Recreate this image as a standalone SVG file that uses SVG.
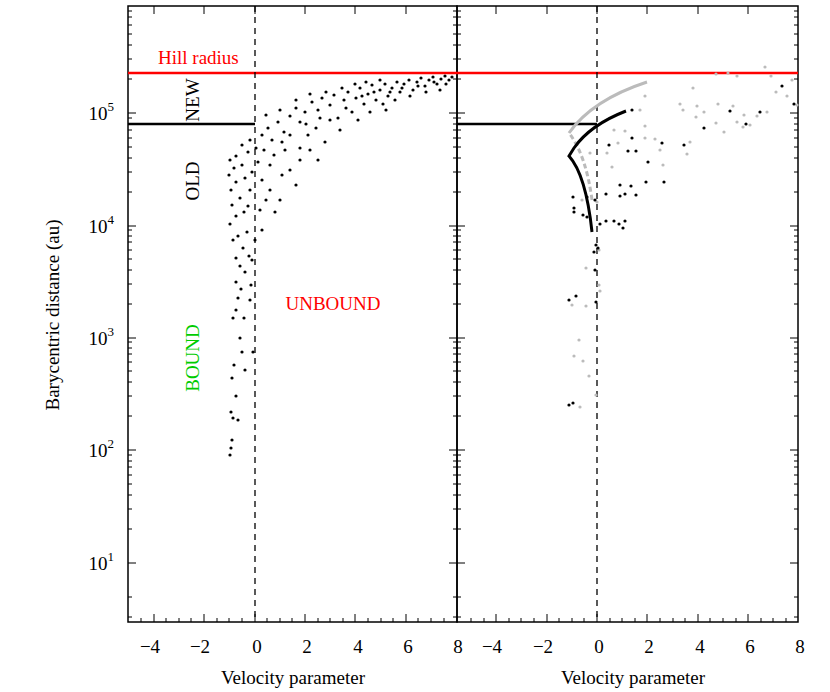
<svg xmlns="http://www.w3.org/2000/svg" width="830" height="692" viewBox="0 0 830 692">
<style>
text{font-family:"Liberation Serif",serif;font-size:19px;fill:#000}
.ax{fill:none;stroke:#000;stroke-width:1.5}
.tk{stroke:#000;stroke-width:1}
.d circle{fill:#000}
.g circle{fill:#bbb}
</style>
<defs>
<g id="yt">
<path class="tk" d="M0,563h8M0,450h8M0,338h8M0,226h8M0,113h8M0,529h4M0,509h4M0,495h4M0,484h4M0,475h4M0,467h4M0,461h4M0,455h4M0,416h4M0,396h4M0,382h4M0,371h4M0,362h4M0,354h4M0,348h4M0,342h4M0,304h4M0,284h4M0,270h4M0,259h4M0,250h4M0,242h4M0,236h4M0,230h4M0,192h4M0,172h4M0,158h4M0,147h4M0,138h4M0,130h4M0,124h4M0,118h4M0,79h4M0,59h4M0,45h4M0,34h4M0,25h4M0,17h4M0,11h4M0,597h4M0,617h4"/>
</g>
</defs>
<rect x="0" y="0" width="830" height="692" fill="#fff"/>
<rect class="ax" x="128" y="6" width="329" height="616"/>
<rect class="ax" x="457" y="6" width="341" height="616"/>
<use href="#yt" x="128"/>
<g transform="translate(457,0) scale(-1,1)"><use href="#yt"/></g>
<use href="#yt" x="457"/>
<g transform="translate(798,0) scale(-1,1)"><use href="#yt"/></g>
<path class="tk" d="M154,622v-8M204,622v-8M255,622v-8M305,622v-8M355,622v-8M406,622v-8M154,6v8M204,6v8M255,6v8M305,6v8M355,6v8M406,6v8M496,622v-8M547,622v-8M597,622v-8M647,622v-8M698,622v-8M748,622v-8M496,6v8M547,6v8M597,6v8M647,6v8M698,6v8M748,6v8"/>
<path class="tk" d="M141,622v-4M166,622v-4M179,622v-4M191,622v-4M217,622v-4M229,622v-4M242,622v-4M267,622v-4M280,622v-4M292,622v-4M318,622v-4M330,622v-4M343,622v-4M368,622v-4M381,622v-4M393,622v-4M418,622v-4M431,622v-4M444,622v-4M471,622v-4M484,622v-4M509,622v-4M521,622v-4M534,622v-4M559,622v-4M572,622v-4M584,622v-4M610,622v-4M622,622v-4M635,622v-4M660,622v-4M673,622v-4M685,622v-4M710,622v-4M723,622v-4M736,622v-4M761,622v-4M773,622v-4M786,622v-4"/>
<g text-anchor="middle">
<text x="150" y="653">−4</text><text x="200" y="653">−2</text><text x="257" y="653">0</text><text x="307" y="653">2</text><text x="358" y="653">4</text><text x="408" y="653">6</text><text x="458" y="653">8</text>
<text x="492" y="653">−4</text><text x="543" y="653">−2</text><text x="599" y="653">0</text><text x="649" y="653">2</text><text x="700" y="653">4</text><text x="750" y="653">6</text><text x="800" y="653">8</text>
<text x="293" y="684">Velocity parameter</text><text x="633" y="684">Velocity parameter</text>
</g>
<g text-anchor="end">
<text x="114" y="570">10<tspan font-size="13" dy="-9">1</tspan></text>
<text x="114" y="457">10<tspan font-size="13" dy="-9">2</tspan></text>
<text x="114" y="345">10<tspan font-size="13" dy="-9">3</tspan></text>
<text x="114" y="233">10<tspan font-size="13" dy="-9">4</tspan></text>
<text x="114" y="120">10<tspan font-size="13" dy="-9">5</tspan></text>
</g>
<text transform="translate(59,315) rotate(-90)" text-anchor="middle">Barycentric distance (au)</text>
<path d="M128,73H798" stroke="#f00" stroke-width="2.5"/>
<path d="M128,124H255M457,124H597" stroke="#000" stroke-width="2.5"/>
<path d="M255,6V622M597,6V622" stroke="#000" stroke-width="1.3" stroke-dasharray="6,5"/>
<text x="158" y="64" style="fill:#f00">Hill radius</text>
<text transform="translate(199,100) rotate(-90)" text-anchor="middle">NEW</text>
<text transform="translate(199,181) rotate(-90)" text-anchor="middle">OLD</text>
<text transform="translate(199,358) rotate(-90)" text-anchor="middle" style="fill:#0c0">BOUND</text>
<text x="333" y="310" text-anchor="middle" style="fill:#f00">UNBOUND</text>
<path d="M569,133Q592,100 647,82" fill="none" stroke="#bbb" stroke-width="3"/>
<path d="M592,200Q586,155 569,133" fill="none" stroke="#bbb" stroke-width="3" stroke-dasharray="5,3"/>
<path d="M592,232Q586,175 569,156L574,148Q590,125 626,111" fill="none" stroke="#000" stroke-width="3"/>
<g class="d">
<circle cx="230" cy="455" r="1.6"/><circle cx="231" cy="448" r="1.6"/><circle cx="232" cy="440" r="1.6"/><circle cx="233" cy="418" r="1.6"/><circle cx="231" cy="412" r="1.6"/><circle cx="232" cy="378" r="1.6"/><circle cx="236" cy="396" r="1.6"/><circle cx="238" cy="420" r="1.6"/><circle cx="234" cy="365" r="1.6"/><circle cx="242" cy="352" r="1.6"/><circle cx="245" cy="370" r="1.6"/><circle cx="240" cy="338" r="1.6"/><circle cx="233" cy="318" r="1.6"/><circle cx="236" cy="310" r="1.6"/><circle cx="244" cy="318" r="1.6"/><circle cx="238" cy="298" r="1.6"/><circle cx="241" cy="289" r="1.6"/><circle cx="236" cy="282" r="1.6"/><circle cx="245" cy="272" r="1.6"/><circle cx="240" cy="266" r="1.6"/><circle cx="236" cy="258" r="1.6"/><circle cx="249" cy="256" r="1.6"/><circle cx="243" cy="248" r="1.6"/><circle cx="233" cy="240" r="1.6"/><circle cx="238" cy="236" r="1.6"/><circle cx="247" cy="232" r="1.6"/><circle cx="252" cy="260" r="1.6"/><circle cx="251" cy="285" r="1.6"/><circle cx="250" cy="300" r="1.6"/><circle cx="253" cy="352" r="1.6"/><circle cx="230" cy="224" r="1.6"/><circle cx="236" cy="216" r="1.6"/><circle cx="244" cy="212" r="1.6"/><circle cx="232" cy="205" r="1.6"/><circle cx="240" cy="198" r="1.6"/><circle cx="248" cy="206" r="1.6"/><circle cx="231" cy="190" r="1.6"/><circle cx="236" cy="182" r="1.6"/><circle cx="229" cy="175" r="1.6"/><circle cx="234" cy="168" r="1.6"/><circle cx="230" cy="160" r="1.6"/><circle cx="236" cy="156" r="1.6"/><circle cx="242" cy="165" r="1.6"/><circle cx="245" cy="178" r="1.6"/><circle cx="250" cy="190" r="1.6"/><circle cx="252" cy="172" r="1.6"/><circle cx="248" cy="152" r="1.6"/><circle cx="242" cy="145" r="1.6"/><circle cx="250" cy="140" r="1.6"/><circle cx="256" cy="148" r="1.6"/><circle cx="258" cy="162" r="1.6"/><circle cx="262" cy="180" r="1.6"/><circle cx="266" cy="200" r="1.6"/><circle cx="260" cy="210" r="1.6"/><circle cx="270" cy="190" r="1.6"/><circle cx="275" cy="212" r="1.6"/><circle cx="280" cy="200" r="1.6"/><circle cx="262" cy="135" r="1.6"/><circle cx="268" cy="128" r="1.6"/><circle cx="272" cy="140" r="1.6"/><circle cx="278" cy="122" r="1.6"/><circle cx="284" cy="132" r="1.6"/><circle cx="274" cy="155" r="1.6"/><circle cx="285" cy="150" r="1.6"/><circle cx="290" cy="170" r="1.6"/><circle cx="296" cy="185" r="1.6"/><circle cx="282" cy="175" r="1.6"/><circle cx="290" cy="116" r="1.6"/><circle cx="296" cy="108" r="1.6"/><circle cx="300" cy="122" r="1.6"/><circle cx="305" cy="112" r="1.6"/><circle cx="308" cy="135" r="1.6"/><circle cx="300" cy="148" r="1.6"/><circle cx="312" cy="102" r="1.6"/><circle cx="318" cy="110" r="1.6"/><circle cx="322" cy="98" r="1.6"/><circle cx="316" cy="128" r="1.6"/><circle cx="325" cy="142" r="1.6"/><circle cx="318" cy="160" r="1.6"/><circle cx="330" cy="105" r="1.6"/><circle cx="334" cy="95" r="1.6"/><circle cx="338" cy="118" r="1.6"/><circle cx="344" cy="100" r="1.6"/><circle cx="348" cy="92" r="1.6"/><circle cx="340" cy="130" r="1.6"/><circle cx="352" cy="112" r="1.6"/><circle cx="356" cy="98" r="1.6"/><circle cx="360" cy="88" r="1.6"/><circle cx="364" cy="104" r="1.6"/><circle cx="368" cy="94" r="1.6"/><circle cx="372" cy="85" r="1.6"/><circle cx="376" cy="100" r="1.6"/><circle cx="380" cy="90" r="1.6"/><circle cx="385" cy="84" r="1.6"/><circle cx="388" cy="96" r="1.6"/><circle cx="392" cy="88" r="1.6"/><circle cx="397" cy="82" r="1.6"/><circle cx="400" cy="92" r="1.6"/><circle cx="404" cy="84" r="1.6"/><circle cx="409" cy="80" r="1.6"/><circle cx="413" cy="90" r="1.6"/><circle cx="417" cy="82" r="1.6"/><circle cx="421" cy="78" r="1.6"/><circle cx="425" cy="86" r="1.6"/><circle cx="429" cy="80" r="1.6"/><circle cx="433" cy="77" r="1.6"/><circle cx="437" cy="84" r="1.6"/><circle cx="441" cy="79" r="1.6"/><circle cx="445" cy="76" r="1.6"/><circle cx="449" cy="80" r="1.6"/><circle cx="452" cy="77" r="1.6"/><circle cx="358" cy="120" r="1.6"/><circle cx="370" cy="112" r="1.6"/><circle cx="383" cy="104" r="1.6"/><circle cx="395" cy="100" r="1.6"/><circle cx="410" cy="96" r="1.6"/><circle cx="426" cy="92" r="1.6"/><circle cx="342" cy="88" r="1.6"/><circle cx="355" cy="84" r="1.6"/><circle cx="366" cy="82" r="1.6"/><circle cx="380" cy="80" r="1.6"/><circle cx="310" cy="94" r="1.6"/><circle cx="326" cy="92" r="1.6"/><circle cx="296" cy="100" r="1.6"/><circle cx="280" cy="110" r="1.6"/><circle cx="266" cy="115" r="1.6"/><circle cx="300" cy="160" r="1.6"/><circle cx="310" cy="150" r="1.6"/><circle cx="262" cy="230" r="1.6"/><circle cx="255" cy="240" r="1.6"/>
<circle cx="346" cy="108" r="1.6"/><circle cx="362" cy="96" r="1.6"/><circle cx="374" cy="92" r="1.6"/><circle cx="390" cy="92" r="1.6"/><circle cx="402" cy="88" r="1.6"/><circle cx="418" cy="86" r="1.6"/><circle cx="434" cy="82" r="1.6"/><circle cx="446" cy="84" r="1.6"/><circle cx="330" cy="120" r="1.6"/><circle cx="290" cy="135" r="1.6"/><circle cx="270" cy="165" r="1.6"/><circle cx="264" cy="150" r="1.6"/><circle cx="282" cy="142" r="1.6"/><circle cx="306" cy="124" r="1.6"/><circle cx="320" cy="118" r="1.6"/><circle cx="386" cy="110" r="1.6"/><circle cx="440" cy="90" r="1.6"/>
</g>
<g class="g">
<circle cx="572" cy="305" r="1.6"/><circle cx="586" cy="268" r="1.6"/><circle cx="599" cy="285" r="1.6"/><circle cx="599" cy="250" r="1.6"/><circle cx="597" cy="202" r="1.6"/><circle cx="582" cy="200" r="1.6"/><circle cx="590" cy="153" r="1.6"/><circle cx="607" cy="153" r="1.6"/><circle cx="614" cy="130" r="1.6"/><circle cx="625" cy="131" r="1.6"/><circle cx="645" cy="138" r="1.6"/><circle cx="645" cy="96" r="1.6"/><circle cx="640" cy="110" r="1.6"/><circle cx="645" cy="126" r="1.6"/><circle cx="655" cy="139" r="1.6"/><circle cx="660" cy="150" r="1.6"/><circle cx="663" cy="165" r="1.6"/><circle cx="683" cy="110" r="1.6"/><circle cx="687" cy="154" r="1.6"/><circle cx="690" cy="142" r="1.6"/><circle cx="696" cy="117" r="1.6"/><circle cx="697" cy="106" r="1.6"/><circle cx="704" cy="112" r="1.6"/><circle cx="716" cy="123" r="1.6"/><circle cx="718" cy="104" r="1.6"/><circle cx="724" cy="132" r="1.6"/><circle cx="733" cy="106" r="1.6"/><circle cx="737" cy="122" r="1.6"/><circle cx="743" cy="127" r="1.6"/><circle cx="744" cy="115" r="1.6"/><circle cx="750" cy="125" r="1.6"/><circle cx="757" cy="116" r="1.6"/><circle cx="767" cy="112" r="1.6"/><circle cx="771" cy="76" r="1.6"/><circle cx="776" cy="92" r="1.6"/><circle cx="787" cy="96" r="1.6"/><circle cx="792" cy="80" r="1.6"/><circle cx="797" cy="105" r="1.6"/><circle cx="716" cy="74" r="1.6"/><circle cx="728" cy="73" r="1.6"/><circle cx="737" cy="76" r="1.6"/><circle cx="765" cy="67" r="1.6"/><circle cx="693" cy="88" r="1.6"/><circle cx="680" cy="104" r="1.6"/><circle cx="618" cy="143" r="1.6"/><circle cx="612" cy="167" r="1.6"/><circle cx="579" cy="340" r="1.6"/><circle cx="574" cy="356" r="1.6"/><circle cx="583" cy="361" r="1.6"/><circle cx="589" cy="376" r="1.6"/><circle cx="586" cy="306" r="1.6"/><circle cx="600" cy="291" r="1.6"/><circle cx="596" cy="395" r="1.6"/><circle cx="580" cy="407" r="1.6"/>
</g>
<g class="d">
<circle cx="632" cy="110" r="1.6"/><circle cx="632" cy="138" r="1.6"/><circle cx="609" cy="145" r="1.6"/><circle cx="628" cy="151" r="1.6"/><circle cx="636" cy="151" r="1.6"/><circle cx="648" cy="162" r="1.6"/><circle cx="662" cy="143" r="1.6"/><circle cx="684" cy="145" r="1.6"/><circle cx="704" cy="128" r="1.6"/><circle cx="730" cy="111" r="1.6"/><circle cx="746" cy="124" r="1.6"/><circle cx="760" cy="112" r="1.6"/><circle cx="782" cy="86" r="1.6"/><circle cx="794" cy="104" r="1.6"/><circle cx="631" cy="186" r="1.6"/><circle cx="646" cy="182" r="1.6"/><circle cx="620" cy="185" r="1.6"/><circle cx="620" cy="196" r="1.6"/><circle cx="664" cy="182" r="1.6"/><circle cx="625" cy="194" r="1.6"/><circle cx="636" cy="195" r="1.6"/><circle cx="606" cy="194" r="1.6"/><circle cx="625" cy="221" r="1.6"/><circle cx="614" cy="221" r="1.6"/><circle cx="619" cy="224" r="1.6"/><circle cx="623" cy="228" r="1.6"/><circle cx="606" cy="221" r="1.6"/><circle cx="587" cy="197" r="1.6"/><circle cx="573" cy="197" r="1.6"/><circle cx="574" cy="208" r="1.6"/><circle cx="574" cy="212" r="1.6"/><circle cx="583" cy="215" r="1.6"/><circle cx="596" cy="245" r="1.6"/><circle cx="594" cy="252" r="1.6"/><circle cx="598" cy="248" r="1.6"/><circle cx="595" cy="270" r="1.6"/><circle cx="596" cy="302" r="1.6"/><circle cx="569" cy="300" r="1.6"/><circle cx="576" cy="296" r="1.6"/><circle cx="573" cy="403" r="1.6"/><circle cx="569" cy="405" r="1.6"/><circle cx="595" cy="200" r="1.6"/><circle cx="600" cy="224" r="1.6"/><circle cx="587" cy="217" r="1.6"/>
</g>
</svg>
